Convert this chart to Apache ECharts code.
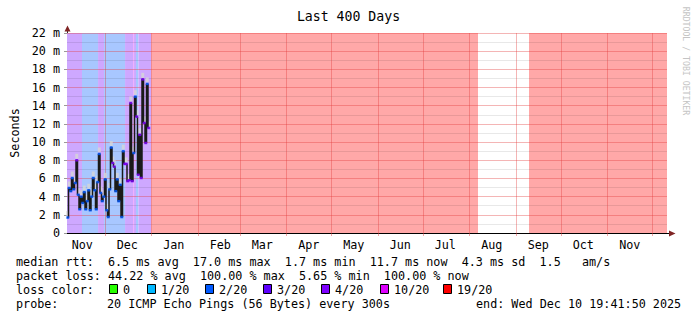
<!DOCTYPE html>
<html><head><meta charset="utf-8">
<script src="https://cdn.jsdelivr.net/npm/echarts@6/dist/echarts.min.js"></script>
<style>html,body{margin:0;padding:0;background:#fff}#c{width:697px;height:321px}</style>
</head><body><div id="c"></div>
<script>
// ---------- data ----------
const startTime = new Date(2024, 10, 5, 19, 41, 50).getTime();
const endTime = new Date(2025, 11, 10, 19, 41, 50).getTime();
const DAY = 86400000;
const monthNames = ['Jan','Feb','Mar','Apr','May','Jun','Jul','Aug','Sep','Oct','Nov','Dec'];
const yTicks = [0,2,4,6,8,10,12,14,16,18,20,22];

// median rtt (ms), one value per day from startTime
const rttValues = [1.7,4.95,4.6,6.05,4.8,5.5,8.0,4.2,2.6,4.0,3.3,4.5,2.6,3.5,4.7,2.5,4.0,6.05,4.7,2.6,
  5.6,8.7,4.4,3.5,4.0,5.9,2.5,1.75,4.8,9.4,7.7,7.3,4.6,5.9,3.5,5.3,1.75,9.0,7.6,7.6,
  5.7,5.8,14.3,5.7,8.8,15.0,12.8,6.4,10.8,6.05,16.9,12.1,9.9,16.4,11.55];
// loss level (out of 20) of each median value
const rttLoss = [2,2,2,2,2,2,4,2,2,2,2,2,2,2,2,2,2,2,2,2,
  2,2,2,2,2,2,2,2,2,2,4,4,2,2,2,2,2,2,4,4,
  4,4,4,4,2,2,4,4,4,4,4,4,4,2,4];
// background loss bands, in days from startTime
const bandStart = [0, 10, 20.7, 24.7, 38.7, 44, 44.7, 46, 47.6, 56.2, 308];
const bandEnd   = [10, 20.7, 24.7, 38.7, 44, 44.7, 46, 47.6, 56.2, 274, 400];
const bandLoss  = [4, 2, 4, 2, 4, 10, 4, 2, 4, 19, 19];

const lossLegendLevels = [0, 1, 2, 3, 4, 10, 19];
const lossLegendLabels = ['0','1/20','2/20','3/20','4/20','10/20','19/20'];

const titleText = 'Last 400 Days';
const yName = 'Seconds';
const statsRtt = 'median rtt:  6.5 ms avg  17.0 ms max  1.7 ms min  11.7 ms now  4.3 ms sd  1.5   am/s';
const statsLoss = 'packet loss: 44.22 % avg  100.00 % max  5.65 % min  100.00 % now';
const lossLabel = 'loss color:';
const probeText = ['probe:', '20 ICMP Echo Pings (56 Bytes) every 300s', 'end: Wed Dec 10 19:41:50 2025'];
const sideText = 'RRDTOOL / TOBI OETIKER';

// ---------- styles ----------
const lossColors = {0:'#26ff00',1:'#00b8ff',2:'#0059ff',3:'#5e00ff',4:'#7e00ff',10:'#dd00ff',19:'#ff0000'};
const lossBg = {2:'rgb(168,199,255)',4:'rgb(206,168,255)',10:'rgb(240,175,255)',19:'rgb(255,168,168)'};
const MONO = '"DejaVu Sans Mono", "Liberation Mono", monospace';
const FS = 11.75;

// ---------- derived ----------
const lineData = rttValues.map((v, i) => [startTime + i * DAY, v]);
lineData.push([startTime + rttValues.length * DAY, rttValues[rttValues.length - 1]]);
const markerData = rttValues.map((v, i) => ({value: [startTime + (i + 0.5) * DAY, v], itemStyle: {color: lossColors[rttLoss[i]]}}));
const smokeData = rttValues.map((v, i) => [startTime + (i + 0.5) * DAY, v]);

const monthStarts = [];
const monthMids = [];
for (let k = 0; k < 14; k++) {
  const d = new Date(2024, 10 + k, 1).getTime();
  const m = new Date(2024, 10 + k, 16).getTime();
  if (d > startTime && d < endTime) monthStarts.push(d);
  if (m > startTime && m < endTime) monthMids.push(m);
}

const areaData = bandStart.map((s, i) => [
  {xAxis: startTime + s * DAY, itemStyle: {color: lossBg[bandLoss[i]]}},
  {xAxis: startTime + bandEnd[i] * DAY}
]);

const gridLines = [];
for (let v = 1; v <= 22; v++) {
  gridLines.push({yAxis: v, lineStyle: v % 2 === 0
    ? {color: 'rgba(225,60,60,0.38)', width: 1, type: 'solid'}
    : {color: 'rgba(0,0,0,0.09)', width: 1, type: 'solid'}});
}
monthStarts.forEach(t => gridLines.push({xAxis: t, lineStyle: {color: 'rgba(225,60,60,0.38)', width: 1, type: 'solid'}}));

// legend graphics
const graphics = [];
function txt(x, y, s, extra) {
  graphics.push(Object.assign({type: 'text', x: x, y: y, silent: true,
    style: {text: s, font: FS + 'px ' + MONO, fill: '#000', textVerticalAlign: 'middle'}}, extra || {}));
}
txt(16, 261.5, statsRtt);
txt(16, 275.5, statsLoss);
txt(16, 289.5, lossLabel);
const boxX = [109, 147, 205, 263, 321, 380, 443];
lossLegendLevels.forEach((lv, i) => {
  graphics.push({type: 'rect', silent: true, shape: {x: boxX[i] + 0.5, y: 284.5, width: 8, height: 9},
    style: {fill: lossColors[lv], stroke: '#000', lineWidth: 1}});
  txt(boxX[i] + 14, 289.5, lossLegendLabels[i]);
});
const probeX = [16, 107, 476];
probeText.forEach((s, i) => txt(probeX[i], 303.5, s));
graphics.push({type: 'text', x: 686, y: 61, rotation: -Math.PI / 2, silent: true,
  style: {text: sideText, font: '8.2px ' + MONO, fill: '#c4c4c4', textAlign: 'center', textVerticalAlign: 'middle'}});
graphics.push({type: 'line', silent: true, shape: {x1: 667, y1: 233.5, x2: 671, y2: 233.5}, style: {stroke: '#000', lineWidth: 1}});
graphics.push({type: 'polygon', silent: true, shape: {points: [[669, 230.5], [675.5, 233.5], [669, 236.5]]}, style: {fill: '#7f2424'}});
graphics.push({type: 'line', silent: true, shape: {x1: 67.5, y1: 33, x2: 67.5, y2: 29}, style: {stroke: '#333', lineWidth: 1}});
graphics.push({type: 'polygon', silent: true, shape: {points: [[64.5, 31.5], [67.5, 25.5], [70.5, 31.5]]}, style: {fill: '#7f2424'}});

const chart = echarts.init(document.getElementById('c'), null, {renderer: 'svg'});
chart.setOption({
  animation: false,
  backgroundColor: '#fff',
  title: {text: titleText, left: 'center', top: 5,
    textStyle: {fontFamily: MONO, fontSize: 13.2, fontWeight: 'normal', color: '#000'}},
  grid: {left: 67, top: 33, width: 600, height: 200, containLabel: false, outerBoundsMode: 'none'},
  xAxis: {
    type: 'value', min: startTime, max: endTime,
    axisLine: {show: true, lineStyle: {color: '#000', width: 1}},
    axisTick: {show: true, customValues: monthStarts, length: 3, lineStyle: {color: 'rgba(225,60,60,0.45)'}},
    axisLabel: {customValues: monthMids, fontFamily: MONO, fontSize: FS, color: '#000', margin: 6,
      formatter: v => monthNames[new Date(v).getMonth()]},
    splitLine: {show: false}
  },
  yAxis: {
    type: 'value', min: 0, max: 22, interval: 2,
    name: yName, nameLocation: 'middle', nameGap: 46, nameRotate: 90,
    nameTextStyle: {fontFamily: MONO, fontSize: FS, color: '#000'},
    axisLine: {show: true, lineStyle: {color: '#333', width: 1}},
    axisTick: {show: true, length: 3, lineStyle: {color: '#999'}},
    axisLabel: {fontFamily: MONO, fontSize: FS, color: '#000', margin: 7,
      formatter: v => v === 0 ? '0' : v + ' m'},
    splitLine: {show: false}
  },
  graphic: graphics,
  series: [
    {type: 'line', data: [], z: 1, silent: true,
      markArea: {silent: true, z: 1, data: areaData}},
    {type: 'line', data: [], z: 2, silent: true,
      markLine: {silent: true, z: 2, symbol: ['none', 'none'], label: {show: false}, data: gridLines, animation: false}},
    {type: 'scatter', data: smokeData, z: 6, silent: true, symbol: 'rect', symbolSize: [3, 5], symbolOffset: [0, -4],
      itemStyle: {color: '#d6d6d6'}},
    {type: 'line', data: lineData, step: 'end', z: 7, silent: true, showSymbol: false,
      lineStyle: {color: '#1a1a1a', width: 1.5}},
    {type: 'scatter', data: markerData, z: 8, silent: true, symbol: 'rect', symbolSize: [3, 2.5]}
  ]
});
</script>
</body></html>
